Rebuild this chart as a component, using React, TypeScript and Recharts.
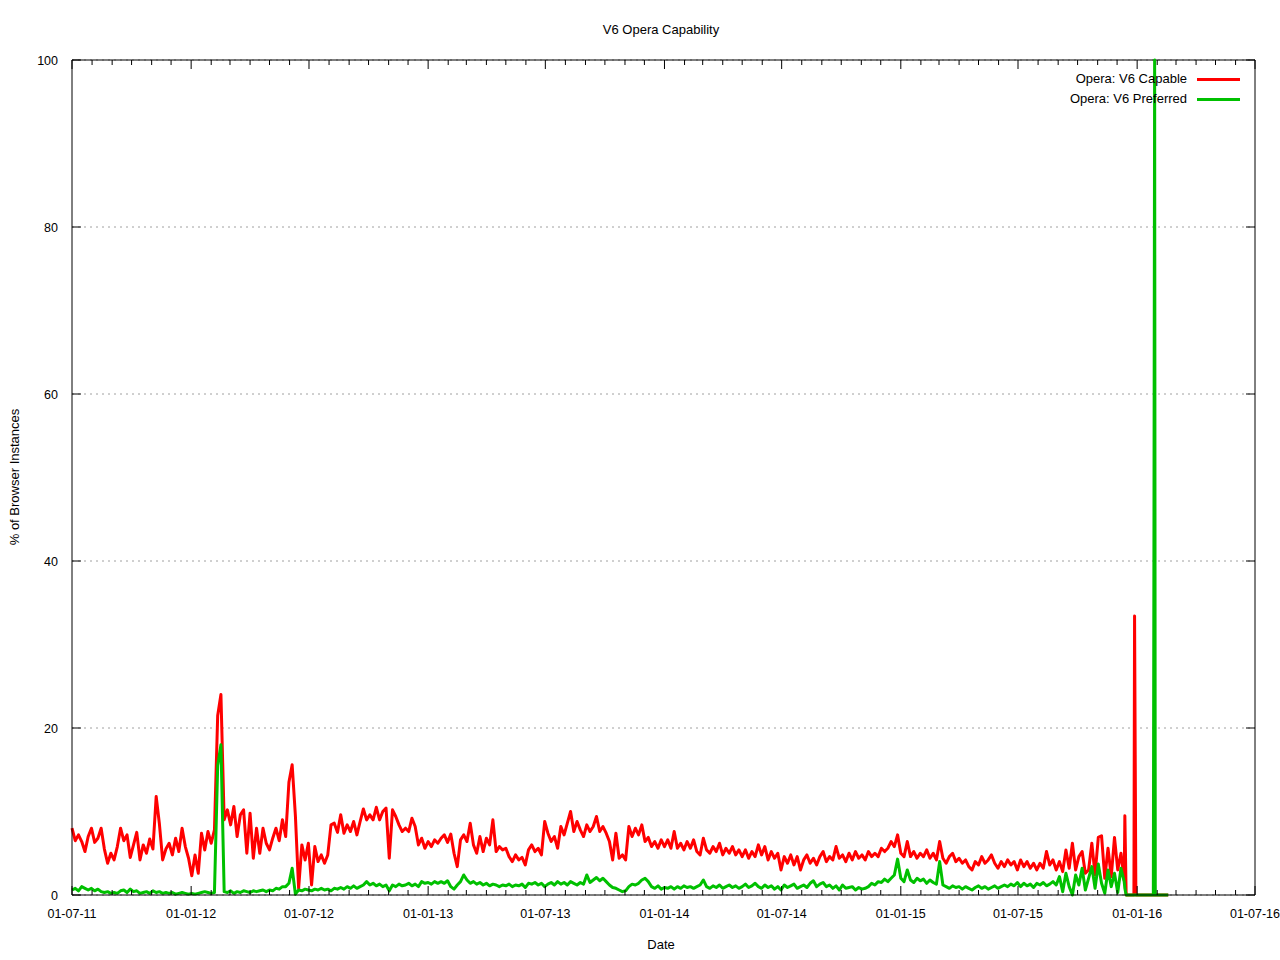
import React from 'react';
import { LineChart, Line, XAxis, YAxis, CartesianGrid, ReferenceLine } from 'recharts';

const FONT = '"Liberation Sans", Arial, Helvetica, sans-serif';
const W = 1280;
const H = 960;
const PLOT = { left: 72, right: 1255, top: 60, bottom: 895 };

// x is days since 01-07-2011, main readings every 5 days
const START = Date.UTC(2011, 6, 1);
const DAY_MS = 86400000;
const STEP = 5;
const X_MAX = 1827; // 01-07-16

// Opera: V6 Capable (%)
const capable = [
  8.0, 6.5, 7.2, 6.4, 5.2, 7.0, 8.0, 6.3, 6.8, 8.0,
  5.5, 3.8, 5.0, 4.2, 5.8,
  8.0, 6.5, 7.2, 4.5, 6.0, 7.5,
  4.2, 6.0, 5.0, 6.7, 5.5,
  11.8, 8.5,
  4.2, 5.5, 6.2, 4.8, 6.8, 5.2, 8.0,
  5.8, 4.4, 2.3, 4.8, 2.6,
  7.4, 5.4, 7.6, 6.2, 7.8,
  21.5, 24.0,
  9.0, 10.2, 8.4, 10.6, 7.0, 9.6, 10.2, 5.0,
  9.8, 4.4, 8.0, 5.0,
  8.0, 6.2, 5.4, 6.8, 8.0, 6.5, 9.0, 7.0,
  13.5, 15.6,
  9.5, 0.8,
  6.0, 4.2, 6.2,
  1.2,
  5.8, 4.0, 4.8, 3.8, 4.8,
  8.4,
  8.6, 7.5, 9.6, 7.4, 8.4, 7.6, 8.8, 7.2, 8.8,
  10.3, 9.0, 9.6, 9.0, 10.5, 9.0, 10.0, 10.4,
  4.4,
  10.2, 9.4,
  8.4, 7.6, 8.0, 7.6, 9.2, 8.2,
  6.0, 6.8, 5.6, 6.4, 5.8, 6.6, 6.2,
  6.8, 7.2, 6.3, 7.3,
  5.0, 3.4,
  6.6, 7.2, 6.4, 8.6,
  6.0, 5.0, 7.0, 5.2, 6.8, 6.0, 9.0,
  5.2, 5.8, 5.4, 5.6, 4.6,
  4.0, 4.8, 4.2, 4.5, 3.6,
  5.4, 6.0, 5.2, 5.6, 4.8,
  8.8,
  7.4, 6.4, 7.0, 5.6,
  8.2, 7.2, 8.6, 10.0,
  7.6, 8.8, 7.8, 7.0, 8.4, 7.6, 8.2, 9.4, 7.6, 8.2, 7.4,
  6.4, 4.2,
  7.4, 4.4, 4.8, 4.2,
  8.2, 7.0, 8.0, 7.2,
  8.4,
  6.4, 6.9, 5.8, 6.4, 5.6, 6.6, 5.8, 6.6, 5.6, 7.6,
  5.6, 6.2, 5.4, 6.4, 5.6, 6.6, 5.2, 4.8, 6.8, 5.4, 5.0, 5.8, 5.2, 6.2, 4.8, 5.6, 5.0, 5.8, 4.8, 5.4,
  4.6, 5.4, 4.4, 5.2, 4.6, 6.0, 4.8, 5.8, 4.2, 5.2, 4.4, 5.0,
  3.0, 4.6, 3.8, 4.8, 3.6, 4.6, 3.0, 4.2, 4.8, 3.8, 4.4, 3.6, 4.6, 5.2, 4.0, 4.6,
  4.2, 5.8, 4.4, 4.8, 4.0, 5.0, 4.2, 5.2, 4.4, 4.8, 4.2, 5.2, 4.6, 5.0, 4.6, 5.6, 5.2,
  5.6, 6.4, 5.8, 7.2,
  5.0, 4.6, 6.4, 4.6, 5.2, 4.4, 5.0, 4.6, 5.4, 4.4, 5.0, 4.2,
  6.4,
  4.4, 3.8, 4.6, 5.0, 4.0, 4.4, 3.8, 4.2, 3.4, 3.0, 4.0, 3.6, 4.6, 3.8, 4.2, 4.8, 3.8, 3.2, 4.0, 3.4, 4.2, 3.6, 4.0, 3.0,
  4.2, 3.4, 4.0, 3.2, 3.8, 3.0, 3.8, 3.2, 5.2,
  3.6, 4.2, 3.0, 4.0, 2.8, 5.4, 3.2, 6.2, 3.0, 4.6, 5.2, 2.6, 3.0, 6.2, 2.4, 6.9, 7.1, 2.0, 5.6, 2.2, 6.9, 3.0, 5.0, 1.8,
];

// Opera: V6 Preferred (%)
const preferred = [
  0.6, 0.8, 0.5, 1.0, 0.8, 0.6, 0.8, 0.5, 0.7, 0.4,
  0.3, 0.4, 0.2, 0.3, 0.2, 0.5, 0.6, 0.3, 0.7, 0.4, 0.5, 0.2, 0.3, 0.4, 0.2, 0.5, 0.3, 0.4,
  0.2, 0.3, 0.2, 0.3, 0.1, 0.2, 0.3, 0.2, 0.1, 0.2, 0.1, 0.2, 0.3, 0.4, 0.3, 0.2, 0.3,
  15.5, 18.0, 0.4,
  0.3, 0.5, 0.2, 0.4, 0.3, 0.5, 0.4, 0.3, 0.5, 0.4, 0.5, 0.6, 0.4, 0.6, 0.5, 0.8, 0.7, 1.0,
  1.0, 1.4, 3.2, 0.1, 0.6,
  0.5, 0.7, 0.6, 0.5, 0.7, 0.6, 0.8, 0.6, 0.7, 0.5, 0.8, 0.7, 0.9, 0.7, 1.0, 0.8, 1.1, 0.8, 1.0,
  1.2, 1.6, 1.2, 1.4, 1.1, 1.3, 1.0, 1.2,
  0.5,
  1.2, 1.0, 1.3, 1.1, 1.2, 1.4, 1.1, 1.3, 1.0, 1.6, 1.4, 1.5, 1.3, 1.6, 1.4,
  1.6, 1.4, 1.7, 1.0, 0.7, 1.2,
  1.6, 2.4, 1.8,
  1.4, 1.6, 1.3, 1.5, 1.2, 1.4, 1.1, 1.3, 1.2, 1.0, 1.2, 1.1, 1.3, 1.0, 1.2, 1.1, 1.3, 0.9,
  1.4, 1.3, 1.5, 1.2, 1.4, 1.0, 1.3, 1.5, 1.2, 1.6, 1.3, 1.5, 1.2, 1.6, 1.4, 1.2, 1.5, 1.3,
  2.4,
  1.5, 1.8, 2.1, 1.7, 2.0, 1.6,
  1.2, 0.9, 0.8, 0.6, 0.4, 0.5,
  1.0, 1.3, 1.2, 1.4,
  1.8, 2.0, 1.6,
  1.0, 0.8, 1.1, 0.7, 0.9, 0.8, 1.0, 0.7, 1.0, 0.8, 1.1, 0.9, 1.0, 0.8, 1.0,
  1.2, 1.8, 1.0, 0.8, 1.1, 0.9, 1.2, 0.8, 1.0, 1.2, 0.9, 1.1, 0.8, 1.0, 1.3, 0.9, 1.1, 1.4, 1.0, 0.8,
  1.2, 0.9, 1.1, 0.7, 1.0, 0.6, 1.2, 0.9, 1.1, 1.3, 0.8, 1.0, 1.2, 0.9, 1.4, 1.7, 1.0, 1.3, 1.5, 1.0, 1.2,
  0.8, 1.1, 0.6, 1.2, 0.8, 0.9, 1.0, 0.6, 0.9, 0.7, 0.8, 1.0,
  1.4, 1.2, 1.6, 1.5, 1.9, 1.6, 2.0, 2.4,
  4.3,
  2.0, 1.6, 3.0, 1.8,
  1.5, 2.0, 1.7, 1.9, 1.4, 1.8, 1.5, 1.3,
  4.0,
  1.2, 1.0, 0.8, 1.1, 0.9, 1.0, 0.7, 1.0, 0.8, 0.6, 0.9, 1.1, 0.8, 1.0, 0.7, 0.9, 1.1, 0.8, 1.0, 1.2, 1.0, 1.3, 1.1, 1.5,
  1.0, 1.4, 1.1, 1.3, 0.9, 1.4, 1.2, 1.5, 1.1, 1.3, 1.6, 1.2,
  2.2, 0.4, 2.6, 1.0, 0.0, 2.4, 1.2, 3.2, 0.6, 2.0, 3.4, 0.8, 3.7, 1.4, 0.2, 3.0, 1.0, 2.6, 0.3, 3.2, 1.6,
];

// end of the series, read day by day around the spikes
const tailDays = [1626, 1628, 1640, 1641, 1642, 1643, 1670, 1671, 1672, 1673, 1693];
const tailCapable = [9.5, 0, 0, 33.4, 16.8, 0, 0, 0, 0, 0, 0];
const tailPreferred = [0.8, 0, 0, 0, 0, 0, 0, 46, 100, 0, 0];

const yTicks = [0, 20, 40, 60, 80, 100];

const series = [
  { key: 'capable', name: 'Opera: V6 Capable', color: '#ff0000' },
  { key: 'preferred', name: 'Opera: V6 Preferred', color: '#00c000' },
];

const data = [
  ...capable.map((v, i) => ({ day: i * STEP, capable: v, preferred: preferred[i] ?? 0 })),
  ...tailDays.map((d, i) => ({ day: d, capable: tailCapable[i], preferred: tailPreferred[i] })),
];

// first of every month from 07-11 to 07-16
const monthTicks: number[] = [];
for (let y = 2011, m = 6; y < 2016 || (y === 2016 && m <= 6); ) {
  monthTicks.push(Math.round((Date.UTC(y, m, 1) - START) / DAY_MS));
  m++;
  if (m === 12) { m = 0; y++; }
}

const pad = (n: number) => (n < 10 ? '0' + n : '' + n);
const toDate = (day: number) => new Date(START + day * DAY_MS);
const fmtDate = (day: number) => {
  const d = toDate(day);
  return `${pad(d.getUTCDate())}-${pad(d.getUTCMonth() + 1)}-${pad(d.getUTCFullYear() % 100)}`;
};

const XTick = (props: any) => {
  const { x, payload } = props;
  const major = toDate(payload.value).getUTCMonth() % 6 === 0;
  const len = major ? 9 : 5;
  return (
    <g>
      <line x1={x} x2={x} y1={PLOT.bottom} y2={PLOT.bottom - len} stroke="#000" />
      <line x1={x} x2={x} y1={PLOT.top} y2={PLOT.top + len} stroke="#000" />
      {major && (
        <text x={x} y={918} textAnchor="middle" fontSize={12.5} fontFamily={FONT} fill="#000">
          {fmtDate(payload.value)}
        </text>
      )}
    </g>
  );
};

const YTick = (props: any) => {
  const { y, payload } = props;
  return (
    <g>
      <line x1={PLOT.left} x2={PLOT.left + 9} y1={y} y2={y} stroke="#000" />
      <line x1={PLOT.right} x2={PLOT.right - 9} y1={y} y2={y} stroke="#000" />
      <text x={58} y={y + 4.5} textAnchor="end" fontSize={12.5} fontFamily={FONT} fill="#000">
        {payload.value}
      </text>
    </g>
  );
};

const textStyle: React.CSSProperties = {
  position: 'absolute',
  fontFamily: FONT,
  fontSize: 13,
  lineHeight: '15px',
  color: '#000',
  whiteSpace: 'nowrap',
};

export default function App() {
  return (
    <div style={{ position: 'absolute', left: 0, top: 0, width: W, height: H, background: '#fff' }}>
      <LineChart
        width={W}
        height={H}
        data={data}
        margin={{ top: PLOT.top, right: W - PLOT.right, bottom: 0, left: 0 }}
      >
        <CartesianGrid vertical={false} stroke="#a0a0a0" strokeDasharray="2 4" />
        <XAxis
          dataKey="day"
          type="number"
          domain={[0, X_MAX]}
          ticks={monthTicks}
          interval={0}
          height={H - PLOT.bottom}
          axisLine={{ stroke: '#000' }}
          tickLine={false}
          tick={<XTick />}
        />
        <YAxis
          type="number"
          domain={[0, 100]}
          ticks={yTicks}
          interval={0}
          width={PLOT.left}
          axisLine={{ stroke: '#000' }}
          tickLine={false}
          tick={<YTick />}
        />
        {/* top and right sides of the border box */}
        <ReferenceLine y={100} stroke="#000" strokeWidth={1} />
        <ReferenceLine x={X_MAX} stroke="#000" strokeWidth={1} />
        {series.map(s => (
          <Line
            key={s.key}
            type="linear"
            dataKey={s.key}
            name={s.name}
            stroke={s.color}
            strokeWidth={3}
            strokeLinejoin="round"
            dot={false}
            activeDot={false}
            isAnimationActive={false}
          />
        ))}
      </LineChart>

      {/* title and axis labels */}
      <div style={{ ...textStyle, left: 661, top: 22, transform: 'translateX(-50%)' }}>V6 Opera Capability</div>
      <div style={{ ...textStyle, left: 661, top: 937, transform: 'translateX(-50%)' }}>Date</div>
      <div
        style={{
          ...textStyle,
          left: 14,
          top: 477,
          transform: 'translate(-50%, -50%) rotate(-90deg)',
        }}
      >
        % of Browser Instances
      </div>

      {/* key, top right like gnuplot */}
      {series.map((s, i) => (
        <React.Fragment key={s.key}>
          <div style={{ ...textStyle, right: W - 1187, top: 71 + i * 20, textAlign: 'right' }}>{s.name}</div>
          <div
            style={{
              position: 'absolute',
              left: 1197,
              top: 78 + i * 20,
              width: 43,
              height: 3,
              background: s.color,
            }}
          />
        </React.Fragment>
      ))}
    </div>
  );
}
